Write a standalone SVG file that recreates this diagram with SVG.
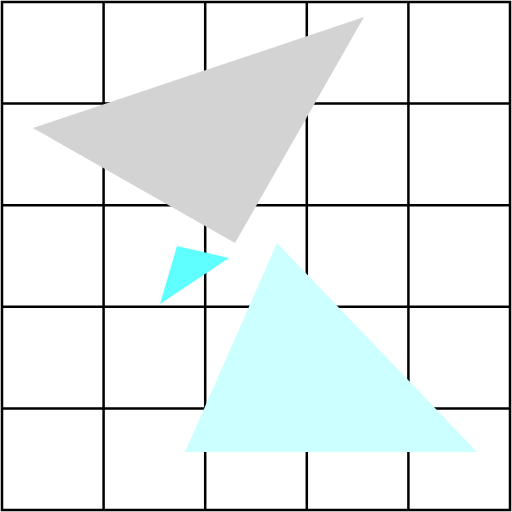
<svg xmlns="http://www.w3.org/2000/svg" width="512" height="512" viewBox="0 0 512 512">
<style>.g{stroke:#000;stroke-width:2.5;fill:none}</style>
<rect width="512" height="512" fill="#fff"/>
<g id="grid" class="g">
<path d="M2 1V511M103.6 1V511M205.2 1V511M306.8 1V511M408.4 1V511M510 1V511M1 2H511M1 103.6H511M1 205.2H511M1 306.8H511M1 408.4H511M1 510H511"/>
</g>
<polygon id="grey" points="364,17 33,128 235,243" fill="#d3d3d3"/>
<polygon id="small" points="177,246 229,258 160,304" fill="#60ffff"/>
<polygon id="big" points="277,243 185,452 477,452" fill="#ccffff"/>
</svg>
